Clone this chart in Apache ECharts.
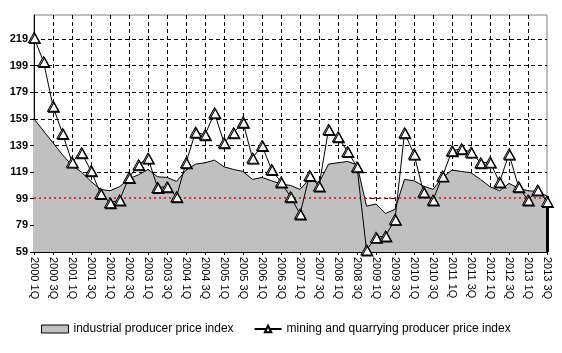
<!DOCTYPE html>
<html>
<head>
<meta charset="utf-8">
<script src="https://cdn.jsdelivr.net/npm/echarts@6/dist/echarts.min.js"></script>
<style>
html, body { margin: 0; padding: 0; background: #fff; }
#chart { width: 562px; height: 353px; }
</style>
</head>
<body>
<div id="chart"></div>
<script>
// quarters 2000 1Q .. 2013 3Q
var quarters = [
  '2000 1Q','2000 2Q','2000 3Q','2000 4Q',
  '2001 1Q','2001 2Q','2001 3Q','2001 4Q',
  '2002 1Q','2002 2Q','2002 3Q','2002 4Q',
  '2003 1Q','2003 2Q','2003 3Q','2003 4Q',
  '2004 1Q','2004 2Q','2004 3Q','2004 4Q',
  '2005 1Q','2005 2Q','2005 3Q','2005 4Q',
  '2006 1Q','2006 2Q','2006 3Q','2006 4Q',
  '2007 1Q','2007 2Q','2007 3Q','2007 4Q',
  '2008 1Q','2008 2Q','2008 3Q','2008 4Q',
  '2009 1Q','2009 2Q','2009 3Q','2009 4Q',
  '2010 1Q','2010 2Q','2010 3Q','2010 4Q',
  '2011 1Q','2011 2Q','2011 3Q','2011 4Q',
  '2012 1Q','2012 2Q','2012 3Q','2012 4Q',
  '2013 1Q','2013 2Q','2013 3Q'
];
// industrial producer price index (grey area)
var industrial = [
  159, 150, 141, 132, 124, 119, 112, 106, 105, 108,
  114, 117, 121, 115.5, 115, 112, 120.5, 125, 126, 128,
  123, 121, 119.5, 113.5, 115, 112.5, 110, 109, 106, 114,
  111, 125, 126, 127, 124.5, 93.5, 95, 88, 91, 113.5,
  112.5, 108.5, 106, 115, 120.5, 119.5, 118.5, 113.5, 108, 105,
  110.5, 107, 105, 104.5, 101
];
// mining and quarrying producer price index (line with triangles)
var mining = [
  220, 202, 168.5, 148, 126.5, 133.5, 120, 103, 96, 98,
  115, 124.5, 129.5, 107.5, 108, 100.5, 126, 149, 147, 163.5,
  141, 148.5, 156.5, 129.5, 139, 121, 111.5, 100.5, 87.5, 116.5,
  108.5, 151, 145.5, 134.5, 123, 60.5, 70, 71, 83.5, 148.5,
  132.5, 104, 98, 116, 135, 136.5, 134, 126, 126.5, 111.5,
  132.5, 108, 98, 105.5, 97
];
var yMin = 59;
var yMax = 237;
var yStep = 20;
var refLevel = 100;

var chart = echarts.init(document.getElementById('chart'));
var lastCat = quarters[quarters.length - 1];
var option = {
  animation: false,
  backgroundColor: '#fff',
  grid: {
    left: 34, right: 15, top: 15, bottom: 101,
    show: true, borderColor: '#808080', borderWidth: 1, backgroundColor: '#fff'
  },
  legend: {
    left: 36, top: 318,
    itemWidth: 27, itemHeight: 8, itemGap: 20,
    textStyle: { fontFamily: 'Liberation Sans, Arial', fontSize: 12, color: '#000' },
    data: [
      { name: 'industrial producer price index', icon: 'rect',
        itemStyle: { color: '#c0c0c0', borderColor: '#000', borderWidth: 1 } },
      { name: 'mining and quarrying producer price index' }
    ]
  },
  xAxis: {
    type: 'category',
    data: quarters,
    boundaryGap: false,
    axisLine: { lineStyle: { color: '#000', width: 1 } },
    axisTick: { show: true, interval: 1, length: 3, lineStyle: { color: '#000' } },
    axisLabel: {
      interval: 1, rotate: -90, margin: 5,
      fontFamily: 'Liberation Sans, Arial', fontSize: 11, color: '#000'
    },
    splitLine: {
      show: true, interval: 1, showMinLine: false, showMaxLine: false,
      lineStyle: { color: '#000', type: [4, 3], width: 1 }
    }
  },
  yAxis: {
    type: 'value',
    min: yMin, max: yMax, interval: yStep,
    axisLine: { show: true, lineStyle: { color: '#000', width: 1 } },
    axisTick: { show: true, length: 4, lineStyle: { color: '#000' } },
    axisLabel: {
      showMaxLabel: false, margin: 6,
      fontFamily: 'Liberation Sans, Arial', fontSize: 11, fontWeight: 'bold', color: '#000'
    },
    splitLine: {
      show: true, showMinLine: false, showMaxLine: false,
      lineStyle: { color: '#000', type: [4, 3], width: 1 }
    }
  },
  series: [
    {
      name: 'industrial producer price index',
      type: 'line',
      data: industrial,
      symbol: 'none',
      itemStyle: { color: '#c0c0c0' },
      lineStyle: { color: '#000', width: 1 },
      areaStyle: { color: '#c0c0c0', opacity: 1, origin: 'start' },
      markLine: {
        silent: true,
        symbol: 'none',
        label: { show: false },
        data: [
          { yAxis: refLevel, lineStyle: { color: '#ff0000', type: [2, 3], width: 1.5 } },
          [
            { coord: [lastCat, yMin], lineStyle: { color: '#000', type: 'solid', width: 3 } },
            { coord: [lastCat, industrial[industrial.length - 1]] }
          ]
        ]
      }
    },
    {
      name: 'mining and quarrying producer price index',
      type: 'line',
      data: mining,
      symbol: 'triangle',
      symbolSize: [11, 10],
      showAllSymbol: true,
      lineStyle: { color: '#000', width: 1 },
      itemStyle: {
        color: '#fff', borderColor: '#000', borderWidth: 1,
        shadowColor: '#000', shadowBlur: 0, shadowOffsetX: 1, shadowOffsetY: 1
      },
      z: 5
    }
  ]
};
chart.setOption(option);
</script>
</body>
</html>
